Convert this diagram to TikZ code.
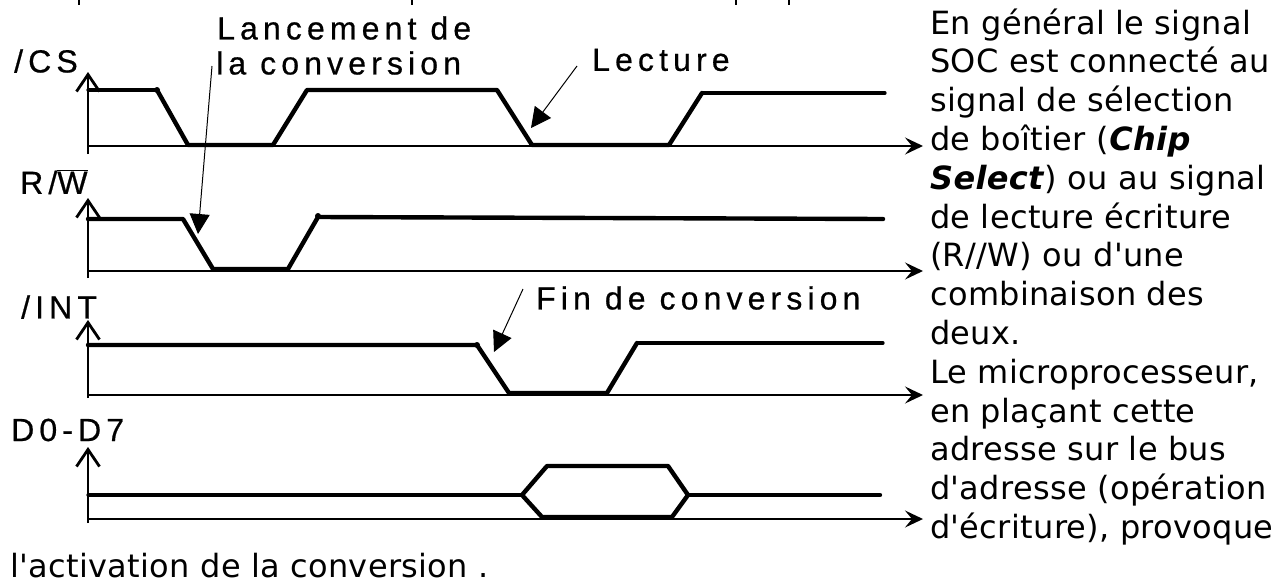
\documentclass[tikz,border=0pt]{standalone}
\usepackage{fontspec}
\setmainfont{DejaVu Sans}[Ligatures=TeXOff, LetterSpace=1]
\newfontfamily\diafont[LetterSpace=16, FakeBold=0.6]{Liberation Sans}
\usetikzlibrary{arrows.meta}
\tikzset{
  axisline/.style={line width=1.8pt, line cap=butt},
  haxis/.style={axisline, -{Stealth[length=18pt,width=17pt,inset=7pt]}},
  vaxis/.style={axisline, -{Straight Barb[length=17pt,width=23pt,line width=2.8pt]}},
  sig/.style={line width=4.4pt, line join=round, line cap=round},
  sigthin/.style={line width=3.2pt, line join=round, line cap=round},
  note/.style={line width=1pt, -{Triangle[length=20pt,width=20pt]}},
  lab/.style={font=\diafont\fontsize{32}{36}\selectfont, inner sep=0pt},
  rtext/.style={font=\fontsize{32}{38.8}\selectfont, inner sep=0pt, anchor=base west},
  dot/.style={fill=black, circle, inner sep=0pt, minimum size=6pt}
}
\begin{document}
\begin{tikzpicture}[x=1pt,y=-1pt]
\useasboundingbox (0,0) rectangle (1284,584);

% remnants of a cut-off text line at the top
\foreach \xx in {79,412,736,789} \fill (\xx-1.2,0) rectangle (\xx+1.2,5);

% ---------- axes ----------
\foreach \n/\yb/\yt/\ya in {cs/154/72/146, rw/278/198/271, int/398/320/395, d/523/447/519}{
  \coordinate (\n o) at (88,\yb);
  \coordinate (\n t) at (88,\yt);
  \coordinate (\n a) at (88,\ya);
  \coordinate (\n e) at (923,\ya);
  \draw[vaxis] (\n o) -- (\n t);
  \draw[haxis] (\n a) -- (\n e);
}

% ---------- labels ----------
\node[lab, anchor=west] (lcs) at (14,61) {/CS};
\node[lab, anchor=west] (lrw) at (20,182) {R/$\overline{\mbox{W}}$};
\node[lab, anchor=west] (lint) at (21,307) {/INT};
\node[lab, anchor=west] (ld) at (11,430) {D0-D7};
\node[lab, anchor=west] (lanc1) at (217,28) {Lancement de};
\node[lab, anchor=west] (lanc2) at (216,63) {la conversion};
\node[lab, anchor=west] (lect) at (592,60) {Lecture};
\node[lab, anchor=west] (fin) at (536,298) {Fin de conversion};

% ---------- signals ----------
% /CS
\draw[sigthin] (88,90) -- (157,90);
\draw[sig] (157,90) -- (188,145) -- (273,145) -- (307,90) -- (497,90) -- (532,145) -- (669,145) -- (702,93);
\draw[sigthin] (702,93) -- (885,93);
\node[dot] (dcs) at (157,90) {};
% R/W
\draw[sig] (88,219) -- (183,219) -- (213,269) -- (288,269) -- (318,217) -- (883,219);
\node[dot] (drw) at (318,216) {};
% /INT
\draw[sig] (88,345) -- (477,345) -- (509,393) -- (607,393) -- (637,343);
\draw[sigthin] (637,343) -- (883,343);
\node[dot] (dint) at (477,345) {};
% D0-D7
\draw[sigthin] (88,495) -- (522,495);
\draw[sig] (522,495) -- (547,466) -- (668,466) -- (688,495) -- (672,517) -- (542,517) -- cycle;
\draw[sig] (688,495) -- (880,495);

% ---------- annotation arrows ----------
\coordinate (lancS) at (212,66);
\coordinate (lancT) at (198,234);
\coordinate (lectS) at (577,66);
\coordinate (lectT) at (531,128);
\coordinate (finS) at (523,289);
\coordinate (finT) at (494,352);
\draw[note] (lancS) -- (lancT);
\draw[note] (lectS) -- (lectT);
\draw[note] (finS) -- (finT);

% ---------- right text ----------
\foreach \t [count=\i from 0] in {
  {En général le signal},
  {SOC est connecté au},
  {signal de sélection},
  {de boîtier (\textbf{\textit{Chip}}},
  {\textbf{\textit{Select}}) ou au signal},
  {de lecture écriture},
  {(R//W) ou d'une},
  {combinaison des},
  {deux.},
  {Le microprocesseur,},
  {en plaçant cette},
  {adresse sur le bus},
  {d'adresse (opération},
  {d'écriture), provoque}}{
  \node[rtext] (r\i) at (930,34+38.8*\i) {\t};
}
\node[rtext] (rlast) at (10,577.5) {l'activation de la conversion .};
\end{tikzpicture}
\end{document}
